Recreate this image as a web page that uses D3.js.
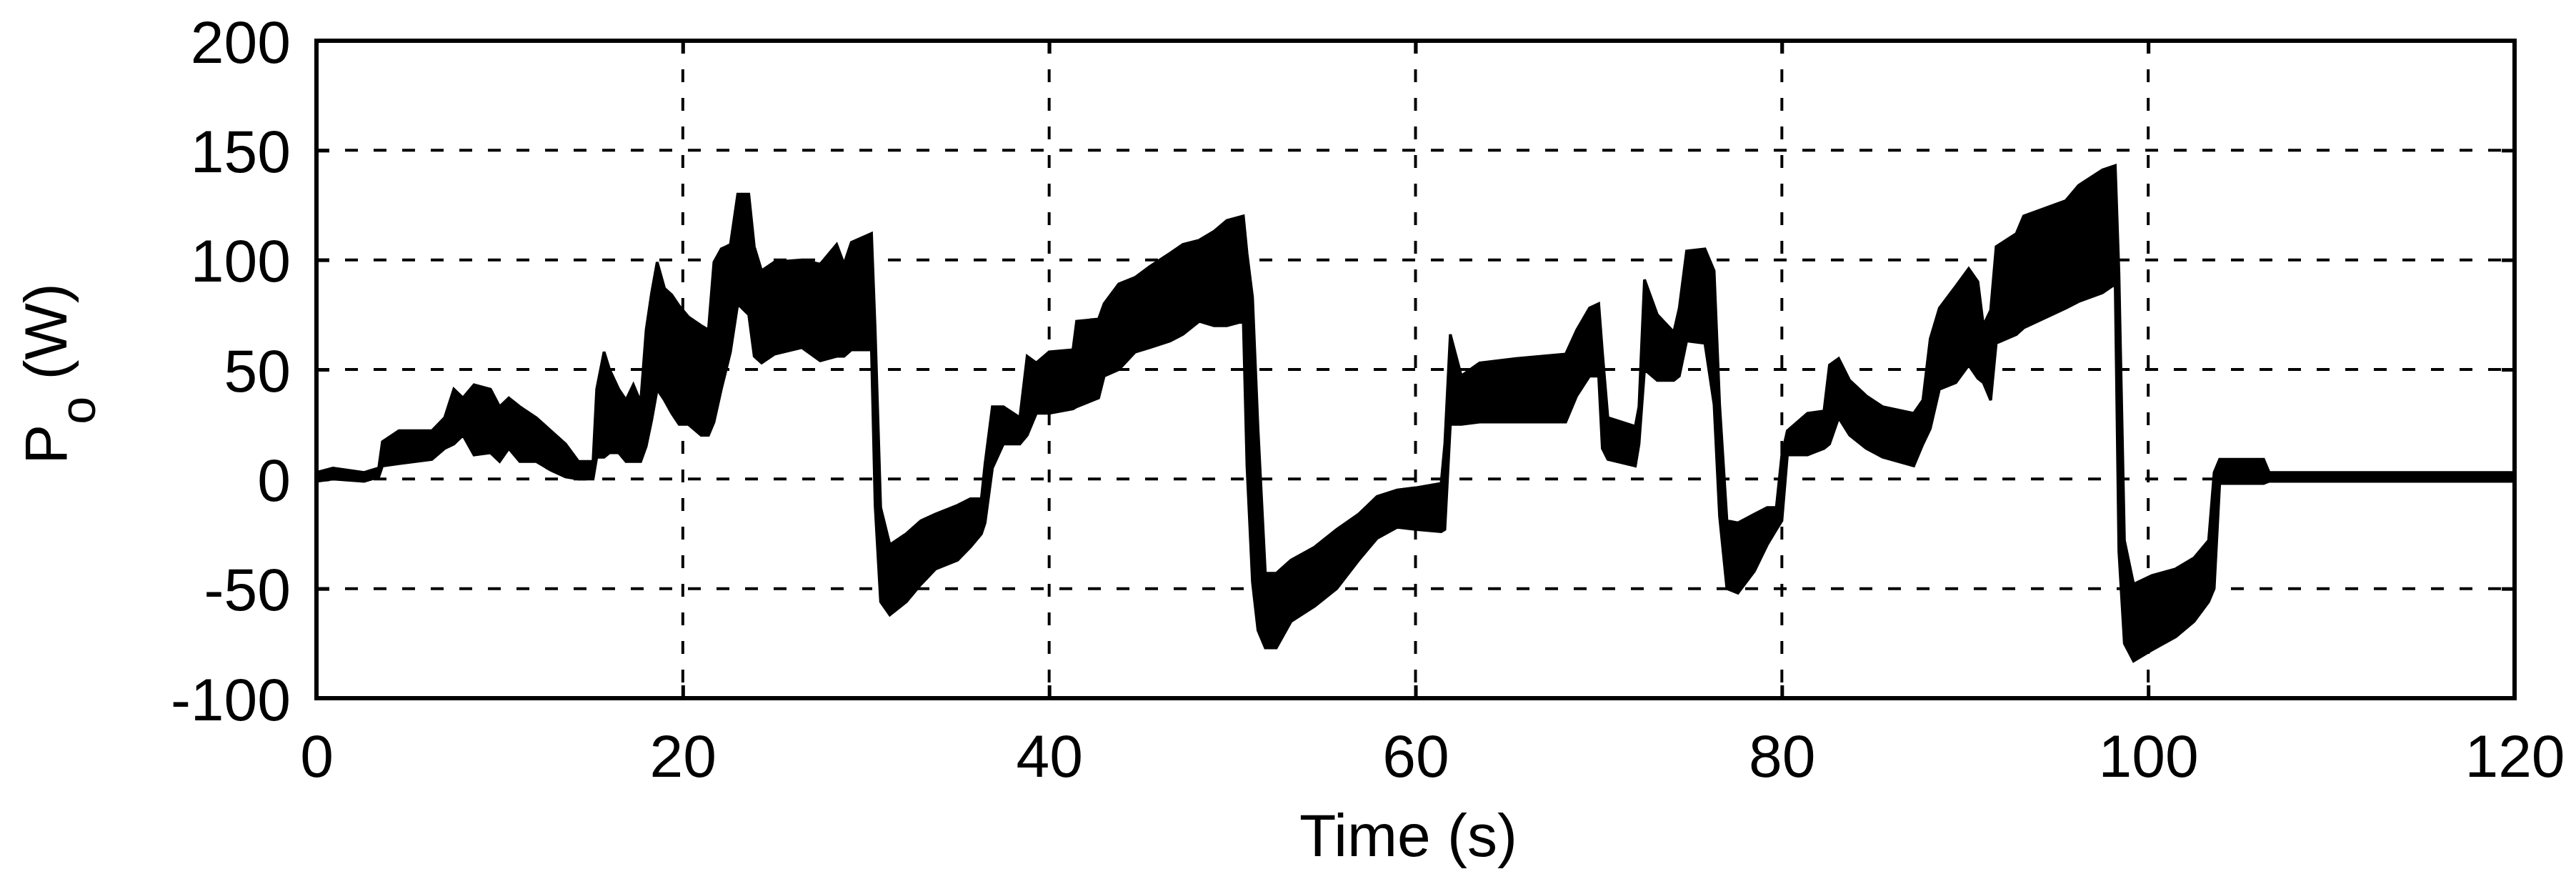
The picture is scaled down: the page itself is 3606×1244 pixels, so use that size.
<!DOCTYPE html>
<html>
<head>
<meta charset="utf-8">
<script src="https://cdn.jsdelivr.net/npm/d3@7/dist/d3.min.js"></script>
<style>
  html, body { margin: 0; padding: 0; background: #fff; }
  svg { display: block; }
  text { font-family: "Liberation Sans", Arial, sans-serif; fill: #000; }
</style>
</head>
<body>
<script>
// ---- data ----
const timeS = [0,0.9,2.6,3.4,3.6,4.5,6.3,7.0,7.5,8.0,8.6,9.5,10.0,10.5,11.1,12.0,12.8,13.6,14.3,15.1,15.3,15.7,16.0,16.5,16.9,17.3,17.7,18.0,18.3,18.6,19.0,19.4,19.8,20.3,21.0,21.4,21.7,22.1,22.6,23.0,23.6,23.9,24.3,25.0,26.5,27.5,28.4,28.8,29.2,30.3,30.5,30.8,31.3,32.2,33.0,33.8,35.0,35.7,36.3,36.5,36.9,37.5,38.4,38.8,39.3,40.0,41.3,41.5,42.7,43.0,43.8,44.7,45.5,46.6,47.3,48.2,49.0,49.7,50.6,50.8,51.1,51.4,51.8,52.4,53.2,54.5,55.7,56.9,57.9,59.0,60.0,61.4,61.6,61.9,62.5,63.5,65.5,68.2,68.8,69.5,70.0,70.2,70.5,72.0,72.2,72.5,73.2,74.1,74.4,74.8,75.8,76.3,76.6,77.0,77.6,78.5,79.2,79.7,80.0,80.3,81.4,82.3,82.6,83.1,83.7,84.6,85.5,87.2,87.7,88.1,88.6,89.5,90.2,90.7,91.0,91.4,91.7,92.8,93.2,95.5,96.2,97.5,98.2,98.4,98.7,99.2,100.2,101.5,102.5,103.3,103.6,103.9,106.3,106.6,120];
const powerHigh = [3,5,3,5,17,22,22,28,41,37,43,41,33,37,33,28,22,16,8,8,41,58,50,41,36,43,35,68,85,99,87,84,79,74,70,68,99,105,107,130,130,106,95,99,100,98,107,98,108,112,68,-13,-30,-25,-19,-16,-12,-9,-9,7,33,33,28,56,53,58,59,72,73,80,89,92,97,103,107,109,113,118,120,103,83,23,-43,-43,-37,-31,-23,-16,-8,-5,-4,-2,16,66,47,53,55,57,68,78,80,58,28,24,33,91,75,67,78,104,105,95,34,-19,-20,-16,-13,-13,11,22,30,31,52,55,45,38,33,30,36,64,78,88,96,90,70,77,106,112,120,127,134,141,143,94,-28,-48,-44,-41,-36,-28,3,9,9,3,3];
const powerLow = [-1,0,-1,1,6,7,9,14,16,20,11,12,8,14,8,8,4,1,0,0,10,10,12,12,8,8,8,15,27,41,36,30,25,25,20,20,26,41,58,80,75,56,53,57,60,54,56,56,59,59,-12,-56,-62,-56,-48,-41,-37,-31,-25,-20,5,16,16,20,30,30,32,33,37,47,50,58,60,63,66,72,70,70,72,6,-47,-69,-77,-77,-65,-58,-50,-37,-27,-22,-23,-24,-23,25,25,26,26,26,38,47,47,14,9,6,16,50,45,45,47,63,62,34,-17,-50,-52,-42,-30,-23,-19,11,11,14,16,28,20,14,10,6,16,23,41,44,52,46,44,36,62,66,69,78,81,85,89,-33,-75,-83,-78,-72,-65,-56,-50,-2,-2,-1,-1];
const xTicks = [0,20,40,60,80,100,120];
const yTicks = [-100,-50,0,50,100,150,200];
const xLabel = "Time (s)";

// ---- layout ----
const W = 3606, H = 1244;
const mL = 443, mR = 3520, mT = 57, mB = 977;
const fs = 84;

const svg = d3.select("body").append("svg").attr("width", W).attr("height", H);
svg.append("rect").attr("width", W).attr("height", H).attr("fill", "#fff");

const x = d3.scaleLinear().domain([0,120]).range([mL, mR]);
const y = d3.scaleLinear().domain([-100,200]).range([mB, mT]);

// grid
const grid = svg.append("g");
grid.selectAll("line.gx").data(xTicks.filter(d => d > 0 && d < 120)).enter().append("line")
  .attr("x1", d => x(d)).attr("x2", d => x(d)).attr("y1", mT).attr("y2", mB)
  .attr("stroke", "#000").attr("stroke-width", 4).attr("stroke-dasharray", "18,22");
grid.selectAll("line.gy").data(yTicks.filter(d => d > -100 && d < 200)).enter().append("line")
  .attr("x1", mL).attr("x2", mR).attr("y1", d => y(d)).attr("y2", d => y(d))
  .attr("stroke", "#000").attr("stroke-width", 4).attr("stroke-dasharray", "18,22");

// signal envelope
const series = timeS.map((t, i) => ({t, hi: powerHigh[i], lo: powerLow[i]}));
const area = d3.area().x(d => x(d.t)).y0(d => y(d.lo)).y1(d => y(d.hi)).curve(d3.curveLinear);
svg.append("path").datum(series).attr("d", area)
  .attr("fill", "#000").attr("stroke", "#000").attr("stroke-width", 4).attr("stroke-linejoin", "miter");

// axes with inward ticks
const tickLen = 18;
const fmt = d => String(d);
const axB = d3.axisBottom(x).tickValues(xTicks).tickSizeInner(-tickLen).tickSizeOuter(0).tickFormat(fmt);
const axL = d3.axisLeft(y).tickValues(yTicks).tickSizeInner(-tickLen).tickSizeOuter(0).tickFormat(fmt);
const axT = d3.axisTop(x).tickValues(xTicks).tickSizeInner(-tickLen).tickSizeOuter(0).tickFormat("");
const axR = d3.axisRight(y).tickValues(yTicks).tickSizeInner(-tickLen).tickSizeOuter(0).tickFormat("");

function styleAxis(g) {
  g.select(".domain").remove();
  g.selectAll(".tick line").attr("stroke", "#000").attr("stroke-width", 5);
  g.selectAll(".tick text").attr("font-size", fs).attr("font-family", "Liberation Sans, Arial, sans-serif").attr("fill", "#000");
}
const gB = svg.append("g").attr("transform", `translate(0,${mB})`).call(axB).call(styleAxis);
gB.selectAll(".tick text").attr("dy", null).attr("y", 110);
const gL = svg.append("g").attr("transform", `translate(${mL},0)`).call(axL).call(styleAxis);
gL.selectAll(".tick text").attr("dy", null).attr("x", -36).attr("y", 30);
svg.append("g").attr("transform", `translate(0,${mT})`).call(axT).call(styleAxis);
svg.append("g").attr("transform", `translate(${mR},0)`).call(axR).call(styleAxis);

// frame
svg.append("rect").attr("x", mL).attr("y", mT).attr("width", mR - mL).attr("height", mB - mT)
  .attr("fill", "none").attr("stroke", "#000").attr("stroke-width", 6);

// axis labels
svg.append("text").attr("x", (mL + mR) / 2 - 10).attr("y", 1198)
  .attr("text-anchor", "middle").attr("font-size", fs).text(xLabel);

const yl = svg.append("text")
  .attr("transform", `translate(93,${(mT + mB) / 2 + 6}) rotate(-90)`)
  .attr("text-anchor", "middle").attr("font-size", fs);
yl.append("tspan").text("P");
yl.append("tspan").attr("font-size", 70).attr("dy", 40).text("o");
yl.append("tspan").attr("dy", -40).text(" (W)");
</script>
</body>
</html>
